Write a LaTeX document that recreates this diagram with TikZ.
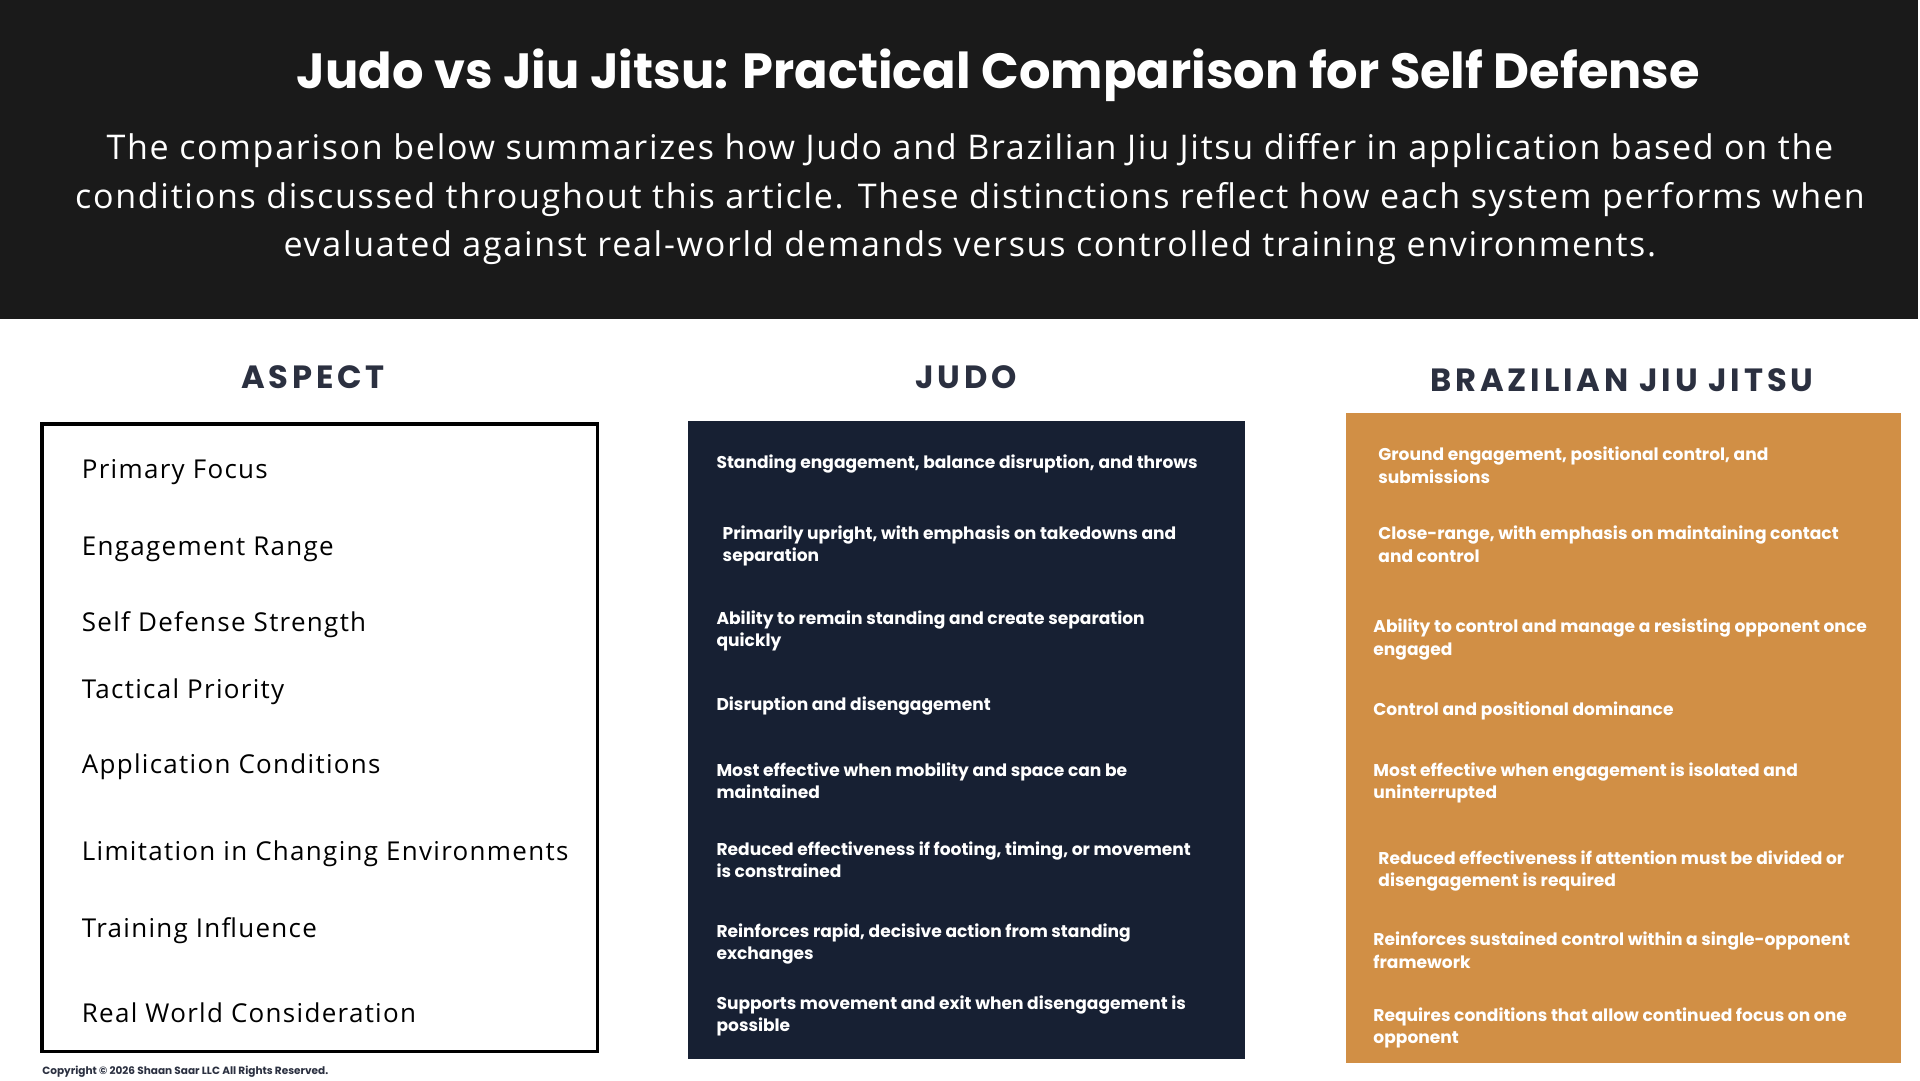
\documentclass[tikz,border=0pt]{standalone}
\usepackage{fontspec}
\setmainfont{Open Sans}
\newfontfamily\pop{Poppins}
\definecolor{hdr}{HTML}{1A1A1A}
\definecolor{navy}{HTML}{172033}
\definecolor{ochre}{HTML}{D18F45}
\definecolor{headc}{HTML}{2B3040}
\begin{document}
\begin{tikzpicture}[x=1pt,y=-1pt,
 colhead/.style={font=\pop\bfseries\fontsize{26}{30}\selectfont\addfontfeature{LetterSpace=12},text=headc},
 asp/.style={anchor=west,font=\fontsize{21}{24}\selectfont\addfontfeature{LetterSpace=5},text=black,inner sep=0},
 cell/.style={anchor=west,align=left,font=\pop\bfseries\fontsize{13.8}{18}\selectfont,text=white,inner sep=0}]
\useasboundingbox (0,0) rectangle (1552,873);
\fill[white] (0,0) rectangle (1552,873);
\fill[hdr] (0,0) rectangle (1550,258);
\node[font=\pop\bfseries\fontsize{40}{44}\selectfont,text=white] (title) at (807,61) {Judo vs Jiu Jitsu: Practical Comparison for Self Defense};
\node[align=center,font=\fontsize{27.5}{39}\selectfont\addfontfeature{LetterSpace=5},text=white] (sub) at (784,161) {The comparison below summarizes how Judo and Brazilian Jiu Jitsu differ in application based on the\\conditions discussed throughout this article. These distinctions reflect how each system performs when\\evaluated against real-world demands versus controlled training environments.};
\node[colhead] (h1) at (253,305) {ASPECT};
\node[colhead] (h2) at (781,305) {JUDO};
\node[colhead] (h3) at (1311,307) {BRAZILIAN JIU JITSU};
\draw[line width=3pt] (34,343) rectangle (483,850);
\fill[navy] (556,340) rectangle (1006,856);
\fill[ochre] (1088,334) rectangle (1537,859);
\node[asp] (a1) at (66,382) {Primary Focus};
\node[asp] (a2) at (66,444) {Engagement Range};
\node[asp] (a3) at (66,505) {Self Defense Strength};
\node[asp] (a4) at (66,559) {Tactical Priority};
\node[asp] (a5) at (66,620) {Application Conditions};
\node[asp] (a6) at (66,690) {Limitation in Changing Environments};
\node[asp] (a7) at (66,752) {Training Influence};
\node[asp] (a8) at (66,819) {Real World Consideration};
\node[cell] (j1) at (579,375) {Standing engagement, balance disruption, and throws};
\node[cell] (j2) at (584,441) {Primarily upright, with emphasis on takedowns and\\separation};
\node[cell] (j3) at (579,510) {Ability to remain standing and create separation\\quickly};
\node[cell] (j4) at (579,571) {Disruption and disengagement};
\node[cell] (j5) at (579,631) {Most effective when mobility and space can be\\maintained};
\node[cell] (j6) at (579,695) {Reduced effectiveness if footing, timing, or movement\\is constrained};
\node[cell] (j7) at (579,763) {Reinforces rapid, decisive action from standing\\exchanges};
\node[cell] (j8) at (579,821) {Supports movement and exit when disengagement is\\possible};
\node[cell] (b1) at (1114,376) {Ground engagement, positional control, and\\submissions};
\node[cell] (b2) at (1114,440) {Close-range, with emphasis on maintaining contact\\and control};
\node[cell] (b3) at (1110,517) {Ability to control and manage a resisting opponent once\\engaged};
\node[cell] (b4) at (1110,575) {Control and positional dominance};
\node[cell] (b5) at (1110,633) {Most effective when engagement is isolated and\\uninterrupted};
\node[cell] (b6) at (1114,704) {Reduced effectiveness if attention must be divided or\\disengagement is required};
\node[cell] (b7) at (1110,768) {Reinforces sustained control within a single-opponent\\framework};
\node[cell] (b8) at (1110,831) {Requires conditions that allow continued focus on one\\opponent};
\node[anchor=west,inner sep=0,font=\pop\bfseries\fontsize{8.5}{9}\selectfont,text=headc] (copy) at (34,866) {Copyright © 2026 Shaan Saar LLC All Rights Reserved.};
\end{tikzpicture}
\end{document}
